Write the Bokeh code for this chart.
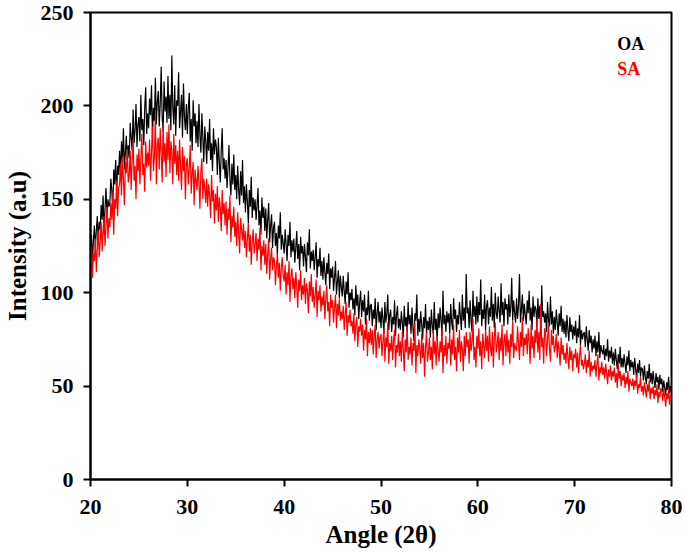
import numpy as np
from bokeh.plotting import figure
from bokeh.models import FixedTicker, Label, Range1d
from bokeh.embed import file_html
from bokeh.resources import INLINE

# Angle grid (2-theta), 0.1 degree steps from 20 to 80
angle_start = 20.0
angle_step = 0.1

oa_intensity = [
    122, 131, 117, 128, 136, 124, 133, 141, 127, 138,
    134, 147, 139, 152, 131, 145, 156, 141, 150, 146,
    148, 161, 155, 144, 166, 158, 171, 153, 168, 163,
    176, 163, 181, 170, 188, 166, 175, 184, 171, 179,
    172, 191, 183, 176, 198, 180, 187, 201, 178, 190,
    194, 181, 206, 187, 193, 179, 199, 210, 185, 196,
    188, 204, 195, 211, 183, 199, 192, 215, 190, 202,
    208, 189, 201, 221, 194, 186, 213, 197, 205, 191,
    216, 193, 206, 187, 227, 199, 190, 211, 184, 203,
    200, 218, 188, 197, 206, 183, 212, 194, 187, 201,
    185, 199, 207, 181, 193, 176, 203, 189, 196, 180,
    192, 178, 201, 184, 175, 196, 183, 170, 189, 181,
    169, 186, 176, 193, 171, 180, 165, 188, 174, 182,
    178, 163, 183, 170, 159, 176, 188, 166, 172, 161,
    171, 156, 167, 179, 160, 152, 169, 158, 174, 155,
    163, 150, 168, 155, 147, 165, 152, 171, 148, 157,
    143, 158, 149, 137, 155, 146, 162, 140, 151, 144,
    150, 139, 147, 156, 136, 144, 131, 151, 140, 146,
    133, 145, 129, 139, 148, 127, 136, 142, 124, 135,
    138, 125, 132, 120, 136, 129, 143, 123, 131, 126,
    121, 134, 126, 117, 131, 125, 138, 119, 128, 122,
    129, 116, 124, 133, 118, 126, 112, 130, 121, 125,
    114, 126, 119, 111, 127, 120, 134, 113, 122, 117,
    123, 112, 119, 127, 108, 118, 114, 124, 109, 117,
    107, 119, 111, 104, 116, 110, 121, 102, 113, 108,
    114, 101, 108, 117, 99, 106, 112, 97, 109, 103,
    98, 109, 101, 94, 106, 99, 111, 92, 100, 96,
    102, 91, 97, 88, 104, 93, 99, 86, 95, 101,
    87, 96, 90, 99, 83, 92, 88, 101, 85, 93,
    94, 82, 91, 86, 97, 80, 89, 95, 84, 90,
    81, 92, 86, 78, 95, 84, 89, 99, 80, 88,
    91, 79, 87, 83, 96, 77, 88, 93, 81, 86,
    80, 90, 84, 76, 93, 82, 87, 79, 95, 83,
    88, 78, 92, 81, 74, 89, 85, 99, 77, 86,
    79, 90, 83, 75, 87, 81, 94, 78, 85, 80,
    87, 76, 91, 82, 78, 95, 80, 86, 74, 89,
    81, 92, 85, 77, 101, 83, 88, 79, 90, 84,
    89, 78, 94, 84, 80, 97, 86, 91, 79, 88,
    83, 95, 87, 80, 99, 85, 92, 81, 110, 89,
    92, 81, 96, 85, 79, 101, 87, 93, 83, 98,
    84, 95, 88, 107, 82, 91, 86, 99, 80, 93,
    96, 83, 92, 87, 103, 85, 94, 81, 100, 89,
    86, 98, 90, 84, 105, 88, 95, 82, 97, 91,
    94, 83, 99, 87, 92, 108, 85, 96, 89, 84,
    97, 86, 93, 110, 84, 91, 99, 85, 94, 88,
    83, 96, 89, 101, 85, 92, 80, 98, 87, 93,
    91, 82, 97, 86, 93, 80, 104, 87, 90, 84,
    89, 79, 95, 85, 82, 98, 83, 90, 78, 87,
    80, 91, 84, 77, 89, 82, 93, 79, 86, 78,
    85, 76, 88, 80, 74, 87, 79, 83, 75, 82,
    77, 85, 73, 81, 76, 88, 72, 80, 75, 78,
    79, 71, 82, 75, 69, 80, 73, 77, 68, 75,
    70, 77, 66, 74, 68, 79, 65, 72, 69, 67,
    72, 64, 70, 66, 75, 63, 69, 65, 71, 62,
    68, 61, 70, 64, 59, 67, 62, 71, 60, 65,
    60, 67, 62, 57, 66, 61, 69, 58, 64, 60,
    63, 56, 65, 59, 54, 62, 57, 64, 55, 60,
    59, 53, 61, 55, 51, 58, 54, 62, 52, 57,
    51, 58, 53, 49, 57, 52, 55, 48, 56, 51,
    54, 47, 53, 49, 45, 52, 48, 55, 46, 50,
    47,
]

sa_intensity = [
    113, 125, 108, 121, 117, 129, 111, 124, 133, 119,
    127, 138, 122, 134, 141, 125, 136, 146, 129, 140,
    135, 148, 139, 154, 131, 150, 145, 160, 141, 156,
    158, 169, 152, 173, 161, 147, 170, 164, 177, 159,
    163, 176, 155, 171, 182, 160, 168, 150, 174, 165,
    177, 158, 172, 185, 163, 169, 154, 181, 167, 175,
    168, 182, 160, 176, 189, 165, 173, 195, 158, 179,
    183, 166, 188, 174, 159, 191, 170, 180, 162, 186,
    171, 190, 164, 181, 176, 158, 185, 169, 179, 163,
    176, 160, 182, 168, 155, 178, 165, 173, 150, 169,
    172, 158, 167, 179, 153, 164, 170, 147, 166, 160,
    155, 168, 159, 145, 165, 172, 150, 161, 156, 148,
    161, 146, 158, 152, 140, 163, 149, 155, 137, 153,
    144, 157, 138, 151, 146, 133, 155, 142, 148, 136,
    149, 131, 145, 139, 152, 127, 141, 135, 146, 130,
    138, 125, 143, 132, 121, 140, 134, 128, 137, 124,
    133, 119, 129, 137, 122, 131, 115, 127, 134, 121,
    126, 132, 117, 129, 123, 135, 112, 125, 120, 128,
    115, 126, 110, 121, 129, 107, 118, 124, 112, 119,
    117, 104, 114, 121, 108, 116, 101, 113, 119, 109,
    106, 115, 99, 111, 104, 117, 95, 109, 113, 102,
    108, 97, 111, 103, 92, 107, 101, 112, 96, 104,
    99, 108, 94, 105, 101, 89, 106, 98, 110, 95,
    103, 92, 99, 107, 87, 101, 96, 104, 90, 98,
    93, 101, 86, 97, 104, 90, 95, 82, 99, 92,
    96, 84, 92, 99, 81, 94, 88, 97, 85, 90,
    86, 93, 80, 89, 95, 77, 88, 84, 91, 82,
    85, 78, 89, 74, 83, 87, 71, 82, 79, 86,
    77, 83, 69, 80, 75, 86, 66, 79, 73, 81,
    72, 80, 67, 77, 83, 65, 75, 79, 70, 76,
    78, 66, 74, 81, 63, 76, 71, 84, 62, 73,
    69, 77, 64, 75, 80, 60, 72, 68, 78, 66,
    74, 63, 79, 70, 58, 75, 68, 82, 64, 71,
    67, 76, 61, 73, 69, 84, 57, 72, 66, 75,
    70, 62, 78, 65, 73, 55, 71, 79, 63, 68,
    76, 64, 71, 59, 80, 67, 74, 61, 77, 69,
    63, 74, 68, 81, 57, 72, 66, 77, 62, 73,
    70, 78, 61, 75, 67, 83, 64, 71, 58, 76,
    68, 80, 63, 74, 70, 58, 77, 66, 79, 71,
    75, 62, 79, 69, 73, 86, 64, 71, 60, 77,
    70, 81, 66, 74, 59, 78, 72, 65, 80, 69,
    77, 63, 82, 71, 66, 79, 60, 75, 84, 68,
    72, 79, 64, 76, 69, 83, 61, 74, 78, 66,
    80, 68, 75, 62, 78, 71, 85, 65, 73, 70,
    69, 82, 73, 64, 79, 71, 87, 66, 76, 72,
    78, 67, 81, 74, 62, 83, 70, 77, 65, 80,
    73, 86, 68, 79, 64, 94, 71, 76, 62, 81,
    79, 66, 75, 83, 70, 63, 80, 72, 77, 68,
    71, 78, 65, 74, 69, 61, 76, 67, 72, 64,
    68, 62, 73, 66, 59, 71, 64, 69, 58, 67,
    65, 70, 60, 68, 57, 66, 72, 61, 64, 59,
    62, 67, 57, 64, 60, 69, 55, 63, 58, 61,
    59, 64, 55, 62, 67, 53, 60, 57, 63, 56,
    60, 54, 62, 57, 51, 59, 55, 61, 53, 58,
    55, 60, 52, 57, 49, 62, 54, 58, 50, 56,
    53, 57, 49, 55, 51, 58, 47, 54, 52, 50,
    54, 48, 53, 50, 56, 46, 51, 49, 55, 47,
    50, 45, 52, 48, 44, 51, 47, 53, 43, 49,
    46, 50, 43, 48, 45, 51, 41, 47, 44, 49,
    47, 42, 48, 44, 39, 46, 43, 49, 40, 45,
    44,
]

x_ticks = [20, 30, 40, 50, 60, 70, 80]
y_ticks = [0, 50, 100, 150, 200, 250]
series_names = ["OA", "SA"]
series_colors = ["black", "red"]
series_values = [oa_intensity, sa_intensity]

FONT = "Liberation Serif"

p = figure(
    width=685, height=554,
    output_backend="svg", toolbar_location=None,
    x_range=Range1d(20, 80), y_range=Range1d(0, 250),
    min_border_left=88, min_border_right=14,
    min_border_top=12, min_border_bottom=75,
)
p.background_fill_color = "white"
p.border_fill_color = "white"
p.outline_line_color = "black"
p.outline_line_width = 2
p.xgrid.visible = False
p.ygrid.visible = False

for vals, color in zip(series_values, series_colors):
    xs = angle_start + angle_step * np.arange(len(vals))
    p.line(xs, vals, line_color=color, line_width=1.2)

for ax, ticks in ((p.xaxis[0], x_ticks), (p.yaxis[0], y_ticks)):
    ax.ticker = FixedTicker(ticks=ticks)
    ax.axis_line_width = 2
    ax.axis_line_color = "black"
    ax.major_tick_line_width = 2
    ax.major_tick_line_color = "black"
    ax.major_tick_out = 7
    ax.major_tick_in = 0
    ax.minor_tick_line_color = None
    ax.major_label_text_font = FONT
    ax.major_label_text_font_style = "bold"
    ax.major_label_text_font_size = "22px"
    ax.major_label_text_color = "black"
    ax.axis_label_text_font = FONT
    ax.axis_label_text_font_style = "bold"
    ax.axis_label_text_font_size = "25px"
    ax.axis_label_text_color = "black"

p.xaxis.axis_label = "Angle (2θ)"
p.yaxis.axis_label = "Intensity (a.u)"
p.xaxis.major_label_standoff = 13
p.yaxis.major_label_standoff = 10
p.xaxis.axis_label_standoff = 4
p.yaxis.axis_label_standoff = 7

legend_y = [233, 219.5]
for name, color, ly in zip(series_names, series_colors, legend_y):
    p.add_layout(Label(
        x=74.4, y=ly, text=name, text_color=color,
        text_font=FONT, text_font_style="bold", text_font_size="18px",
        text_baseline="middle", text_align="left",
    ))

open("out.html", "w").write(file_html(p, INLINE))
